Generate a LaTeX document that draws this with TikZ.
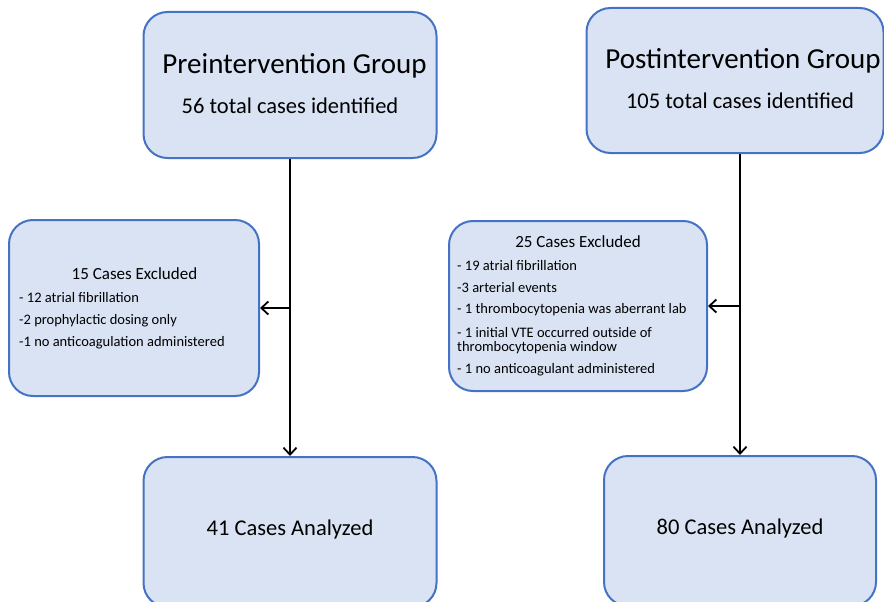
\documentclass[tikz,border=0pt]{standalone}
\usepackage{fontspec}
\setmainfont{Carlito}
\usetikzlibrary{arrows.meta}
\definecolor{boxfill}{HTML}{DAE3F3}
\definecolor{boxline}{HTML}{4472C4}
\begin{document}
\begin{tikzpicture}[x=1pt,y=-1pt,
  box/.style={draw=boxline,fill=boxfill,line width=2pt,rounded corners=24pt,inner sep=0pt},
  conn/.style={draw=black,line width=2pt},
  arr/.style={conn,-{Straight Barb[length=7pt,width=13pt,line width=1.8pt]}},
  big/.style={font=\fontsize{29}{34}\selectfont},
  mid/.style={font=\fontsize{22.5}{27}\selectfont},
  ttl/.style={font=\fontsize{17}{20}\selectfont},
  itm/.style={font=\fontsize{14.5}{17}\selectfont,anchor=west,inner sep=0pt}]
\useasboundingbox (0,0) rectangle (884,602);
\clip (0,0) rectangle (884,602);
% boxes
\node[box,minimum width=293pt,minimum height=146pt] (pre) at (290,85) {};
\node[box,minimum width=297pt,minimum height=145pt] (post) at (735,80.5) {};
\node[box,minimum width=250pt,minimum height=176pt] (exL) at (134,308) {};
\node[box,minimum width=258pt,minimum height=170pt] (exR) at (578,306) {};
\node[box,minimum width=293pt,minimum height=150pt] (anL) at (290,532) {};
\node[box,minimum width=272pt,minimum height=150pt] (anR) at (740,531) {};
% texts
\node[big] (preT) at (294.5,66) {Preintervention Group};
\node[mid] (preS) at (290,106) {56 total cases identified};
\node[big] (postT) at (743,61) {Postintervention Group};
\node[mid] (postS) at (740,101) {105 total cases identified};
\node[mid] (anLT) at (290,529) {41 Cases Analyzed};
\node[mid] (anRT) at (740,528) {80 Cases Analyzed};
\node[ttl] (exLT) at (134.5,274) {15 Cases Excluded};
\node[itm] (l1) at (19,298) {- 12 atrial fibrillation};
\node[itm] (l2) at (19,321) {-2 prophylactic dosing only};
\node[itm] (l3) at (19,343) {-1 no anticoagulation administered};
\node[ttl] (exRT) at (578,242) {25 Cases Excluded};
\node[itm] (r1) at (457,266) {- 19 atrial fibrillation};
\node[itm] (r2) at (457,288) {-3 arterial events};
\node[itm] (r3) at (457,310) {- 1 thrombocytopenia was aberrant lab};
\node[itm] (r4) at (457,333) {- 1 initial VTE occurred outside of};
\node[itm] (r4b) at (457,348) {thrombocytopenia window};
\node[itm] (r5) at (457,370) {- 1 no anticoagulant administered};
% connectors
\coordinate (sR) at (anR.north |- post.south);
\coordinate (jL) at (pre.south |- exL.east);
\coordinate (jR) at (anR.north |- exR.east);
\draw[arr] (pre.south) -- (anL.north);
\draw[arr] (jL) -- (exL.east);
\draw[arr] (sR) -- (anR.north);
\draw[arr] (jR) -- (exR.east);
\end{tikzpicture}
\end{document}
